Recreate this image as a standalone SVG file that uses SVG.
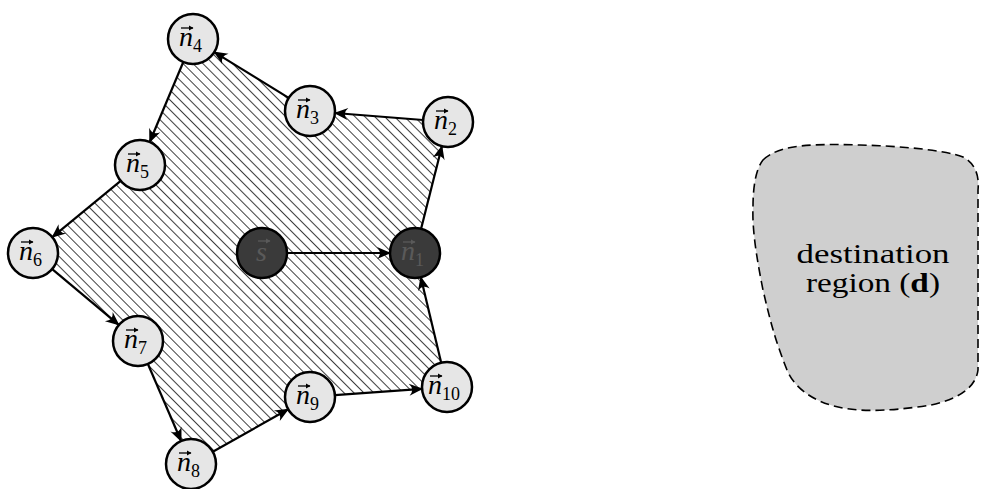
<svg xmlns="http://www.w3.org/2000/svg" width="981" height="489" viewBox="0 0 981 489">
<style>
.node{fill:#e6e6e6;stroke:#000;stroke-width:2.5}
.dark{fill:#3a3a3a;stroke:#000;stroke-width:2.5}
.lbl{font-family:"Liberation Serif","DejaVu Serif",serif;font-size:28px;fill:#000}
.dlbl{font-family:"Liberation Serif","DejaVu Serif",serif;font-size:28px;fill:#5a5a5a}
.sub{font-size:18px;font-style:normal}
.it{font-style:italic}
.edge{stroke:#000;stroke-width:2.2;fill:none;marker-end:url(#arr)}
.vec{stroke:#000;stroke-width:1.3;fill:none;marker-end:url(#va)}
.dvec{stroke:#5a5a5a;stroke-width:1.3;fill:none;marker-end:url(#vad)}
.dest{font-family:"Liberation Serif","DejaVu Serif",serif;font-size:27px;fill:#000}
</style>
<defs>
<marker id="arr" markerUnits="userSpaceOnUse" markerWidth="16" markerHeight="14" viewBox="-14 -7 16 14" refX="0" refY="0" orient="auto">
<path d="M1,0 L-13,-6 Q-7,0 -13,6 Z" fill="#000"/>
</marker>
<marker id="va" markerUnits="userSpaceOnUse" markerWidth="6" markerHeight="6" viewBox="-5 -3 6 6" refX="0" refY="0" orient="auto">
<path d="M0.5,0 L-4,-2.5 L-4,2.5 Z" fill="#000"/>
</marker>
<marker id="vad" markerUnits="userSpaceOnUse" markerWidth="6" markerHeight="6" viewBox="-5 -3 6 6" refX="0" refY="0" orient="auto">
<path d="M0.5,0 L-4,-2.5 L-4,2.5 Z" fill="#5a5a5a"/>
</marker>
<pattern id="hatch" patternUnits="userSpaceOnUse" width="7" height="7" patternTransform="rotate(-45)">
<line x1="0" y1="-1" x2="0" y2="8" stroke="#000" stroke-width="1.5"/>
</pattern>
</defs>
<polygon id="region" points="415,253 448,122 310,111 193,39 140,165 33,253 138,341 191,464 310,397 447,387" fill="url(#hatch)"/>
<g id="destination">
<path d="M 763,160 C 780,143 820,144 860,145 C 900,146 945,150 963,157 C 978,165 979,180 978,190 L 978,370 C 975,395 940,405 917,407 C 895,410 875,411 860,410 C 820,408 795,390 787,370 C 775,340 770,320 763,290 C 757,260 752,230 753,207 C 753,190 755,170 763,160 Z" fill="#cfcfcf" stroke="#000" stroke-width="1.6" stroke-dasharray="9,5"/>
<text class="dest" x="873" y="263" text-anchor="middle" textLength="153" lengthAdjust="spacingAndGlyphs">destination</text>
<text class="dest" x="873" y="292" text-anchor="middle" textLength="134" lengthAdjust="spacingAndGlyphs">region (<tspan font-weight="bold">d</tspan>)</text>
</g>
<g id="connectors">
<line class="edge" x1="421.1" y1="228.8" x2="441.9" y2="146.2"/>
<line class="edge" x1="423.1" y1="120" x2="334.9" y2="113"/>
<line class="edge" x1="288.7" y1="97.9" x2="214.3" y2="52.1"/>
<line class="edge" x1="183.3" y1="62" x2="149.7" y2="142"/>
<line class="edge" x1="120.7" y1="180.9" x2="52.3" y2="237.1"/>
<line class="edge" x1="52.2" y1="269.1" x2="118.8" y2="324.9"/>
<line class="edge" x1="147.9" y1="364" x2="181.1" y2="441"/>
<line class="edge" x1="212.8" y1="451.7" x2="288.2" y2="409.3"/>
<line class="edge" x1="334.9" y1="395.2" x2="422.1" y2="388.8"/>
<line class="edge" x1="441.2" y1="362.7" x2="420.8" y2="277.3"/>
<line class="edge" x1="287" y1="253" x2="390" y2="253"/>
</g>
<g id="s"><circle class="dark" cx="262" cy="253" r="25"/><text class="dlbl it" x="256" y="261">s</text><path class="dvec" d="M258,241 H270"/></g>
<g id="n1"><circle class="dark" cx="415" cy="253" r="25"/><text class="dlbl" x="401" y="260"><tspan class="it">n</tspan><tspan class="sub" dy="6">1</tspan></text><path class="dvec" d="M403,242 H415"/></g>
<g id="n2"><circle class="node" cx="448" cy="122" r="25"/><text class="lbl" x="434" y="129"><tspan class="it">n</tspan><tspan class="sub" dy="6">2</tspan></text><path class="vec" d="M436,111 H448"/></g>
<g id="n3"><circle class="node" cx="310" cy="111" r="25"/><text class="lbl" x="296" y="118"><tspan class="it">n</tspan><tspan class="sub" dy="6">3</tspan></text><path class="vec" d="M298,100 H310"/></g>
<g id="n4"><circle class="node" cx="193" cy="39" r="25"/><text class="lbl" x="179" y="46"><tspan class="it">n</tspan><tspan class="sub" dy="6">4</tspan></text><path class="vec" d="M181,28 H193"/></g>
<g id="n5"><circle class="node" cx="140" cy="165" r="25"/><text class="lbl" x="126" y="172"><tspan class="it">n</tspan><tspan class="sub" dy="6">5</tspan></text><path class="vec" d="M128,154 H140"/></g>
<g id="n6"><circle class="node" cx="33" cy="253" r="25"/><text class="lbl" x="19" y="260"><tspan class="it">n</tspan><tspan class="sub" dy="6">6</tspan></text><path class="vec" d="M21,242 H33"/></g>
<g id="n7"><circle class="node" cx="138" cy="341" r="25"/><text class="lbl" x="124" y="348"><tspan class="it">n</tspan><tspan class="sub" dy="6">7</tspan></text><path class="vec" d="M126,330 H138"/></g>
<g id="n8"><circle class="node" cx="191" cy="464" r="25"/><text class="lbl" x="177" y="471"><tspan class="it">n</tspan><tspan class="sub" dy="6">8</tspan></text><path class="vec" d="M179,453 H191"/></g>
<g id="n9"><circle class="node" cx="310" cy="397" r="25"/><text class="lbl" x="296" y="404"><tspan class="it">n</tspan><tspan class="sub" dy="6">9</tspan></text><path class="vec" d="M298,386 H310"/></g>
<g id="n10"><circle class="node" cx="447" cy="387" r="25"/><text class="lbl" x="428" y="394"><tspan class="it">n</tspan><tspan class="sub" dy="6">10</tspan></text><path class="vec" d="M430,376 H442"/></g>
</svg>
